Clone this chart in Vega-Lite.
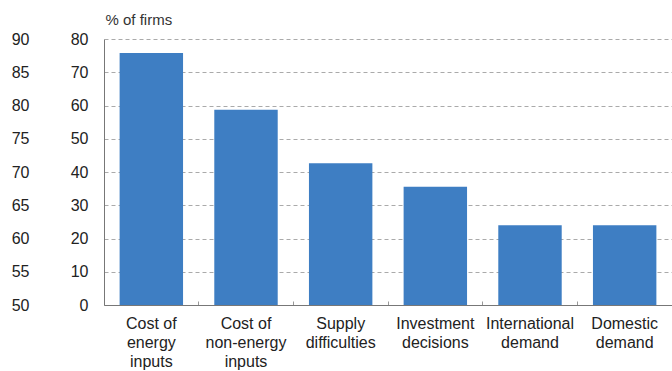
{
  "$schema": "https://vega.github.io/schema/vega-lite/v6.json",
  "width": 568,
  "height": 266,
  "autosize": "none",
  "padding": {"left": 104, "top": 39, "right": 0, "bottom": 66},
  "background": "white",
  "config": {
    "view": {"stroke": null},
    "font": "Liberation Sans",
    "axis": {"labelFont": "Liberation Sans", "titleFont": "Liberation Sans", "labelColor": "#222222", "titleColor": "#333333"}
  },
  "data": {"values": [
    {"category": "Cost of|energy|inputs", "value": 75.8},
    {"category": "Cost of|non-energy|inputs", "value": 58.7},
    {"category": "Supply|difficulties", "value": 42.6},
    {"category": "Investment|decisions", "value": 35.6},
    {"category": "International|demand", "value": 24.0},
    {"category": "Domestic|demand", "value": 24.0}
  ]},
  "layer": [
    {
      "mark": {"type": "bar", "color": "#3e7ec3", "width": {"band": 0.67}},
      "encoding": {
        "x": {
          "field": "category", "type": "nominal", "sort": null,
          "scale": {"paddingInner": 0, "paddingOuter": 0},
          "axis": {
            "title": null, "labelAngle": 0, "labelFontSize": 16,
            "labelExpr": "split(datum.label, '|')", "labelLineHeight": 19,
            "labelBaseline": "top", "labelPadding": 14,
            "domainColor": "#777777", "domainWidth": 1,
            "ticks": true, "tickSize": -4, "tickColor": "#999999",
            "bandPosition": 0
          }
        },
        "y": {
          "field": "value", "type": "quantitative",
          "scale": {"domain": [0, 80], "nice": false},
          "axis": {
            "values": [0, 10, 20, 30, 40, 50, 60, 70, 80],
            "title": "% of firms", "titleAngle": 0, "titleAlign": "left", "titleBaseline": "bottom",
            "titleX": 1, "titleY": -12, "titleFontSize": 15, "titleFontWeight": "normal",
            "labelFontSize": 16, "labelPadding": 16, "ticks": false,
            "domainColor": "#777777", "grid": true, "gridColor": "#aaaaaa", "gridDash": [4, 3]
          }
        }
      }
    },
    {
      "mark": {"type": "point", "opacity": 0},
      "encoding": {
        "y": {
          "datum": 50, "type": "quantitative",
          "scale": {"domain": [50, 90], "nice": false},
          "axis": {
            "orient": "left", "values": [50, 55, 60, 65, 70, 75, 80, 85, 90],
            "title": null, "labelFontSize": 16, "domain": false, "ticks": false, "grid": false,
            "labelPadding": 0, "offset": 75
          }
        }
      }
    }
  ],
  "resolve": {"scale": {"y": "independent"}}
}
